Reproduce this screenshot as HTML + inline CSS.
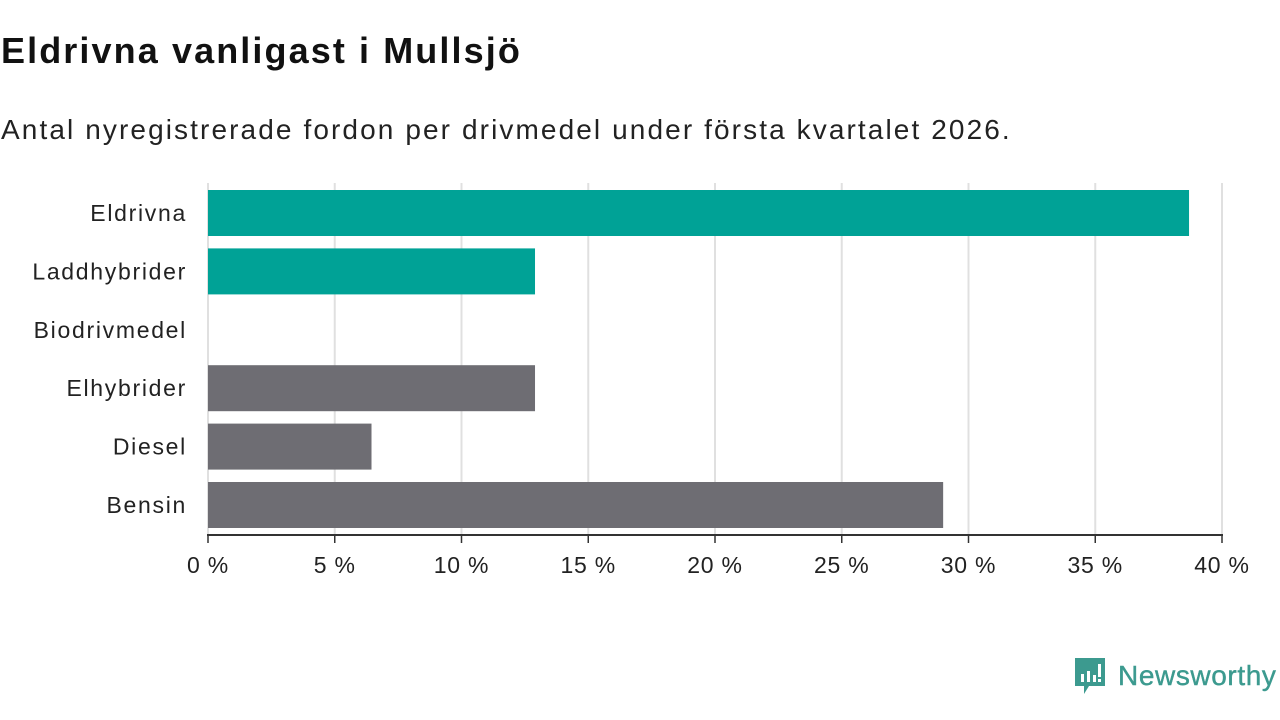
<!DOCTYPE html>
<html><head><meta charset="utf-8"><style>
body{margin:0;width:1280px;height:720px;background:#fff;font-family:"Liberation Sans",sans-serif;overflow:hidden;position:relative}
h1{position:absolute;left:1px;top:30px;margin:0;font-size:36px;font-weight:bold;color:#111;letter-spacing:2.1px;white-space:nowrap}
p{position:absolute;left:1px;top:114px;margin:0;font-size:28px;color:#222;letter-spacing:2.1px;white-space:nowrap}
</style></head><body>
<h1>Eldrivna vanligast i Mullsjö</h1>
<p>Antal nyregistrerade fordon per drivmedel under första kvartalet 2026.</p>
<svg id="c" width="1280" height="720" style="position:absolute;left:0;top:0"></svg>
<div style="position:absolute;left:1073px;top:656px;display:flex;align-items:center">
<svg width="34" height="40" viewBox="0 0 34 40"><path d="M2 2h30v28H16l-5 8v-8H2z" fill="#3c9a8f"/><rect x="8" y="18" width="3" height="8" fill="#fff"/><rect x="14" y="15" width="3" height="11" fill="#fff"/><rect x="20" y="19" width="3" height="7" fill="#fff"/><rect x="25" y="8" width="3" height="13" fill="#fff"/><rect x="25" y="23" width="3" height="3" fill="#fff"/></svg>
<span style="font-size:28px;color:#3c9a8f;margin-left:11px;letter-spacing:0.6px;-webkit-text-stroke:0.4px #3c9a8f">Newsworthy</span></div>
<script>
const categories=["Eldrivna","Laddhybrider","Biodrivmedel","Elhybrider","Diesel","Bensin"];
const values=[38.7,12.9,0,12.9,6.45,29.0];
const colors=["#00a296","#00a296","#00a296","#6e6d73","#6e6d73","#6e6d73"];
const ticks=[0,5,10,15,20,25,30,35,40];
const NS="http://www.w3.org/2000/svg",svg=document.getElementById('c');
const x=v=>208+v*(1222-208)/40;
const y=i=>184+i*58.4;
function el(t,a){const e=document.createElementNS(NS,t);for(const k in a)e.setAttribute(k,a[k]);svg.appendChild(e);return e;}
ticks.forEach(t=>{
 const g=el('line',{x1:x(t),x2:x(t),y1:183,y2:535,stroke:'#e0e0e0','stroke-width':2});
 
 
 const tk=el('line',{x1:x(t),x2:x(t),y1:535,y2:543,stroke:'#333','stroke-width':1.5});
 
 
 const l=el('text',{x:x(t),y:573,'text-anchor':'middle','font-size':23,fill:'#222','letter-spacing':0.8});
 l.textContent=t+' %';
 
 
});
categories.forEach((c,i)=>{
 if(values[i]>0){const r=el('rect',{x:x(0),y:y(i)+6,width:x(values[i])-x(0),height:46,fill:colors[i]});
 
 }
 const l=el('text',{x:187,y:y(i)+37,'text-anchor':'end','font-size':23,fill:'#222','letter-spacing':1.7});
 l.textContent=c;
 
 
});
const ax=el('line',{x1:207,x2:1223,y1:535,y2:535,stroke:'#333','stroke-width':2});


</script>
</body></html>
